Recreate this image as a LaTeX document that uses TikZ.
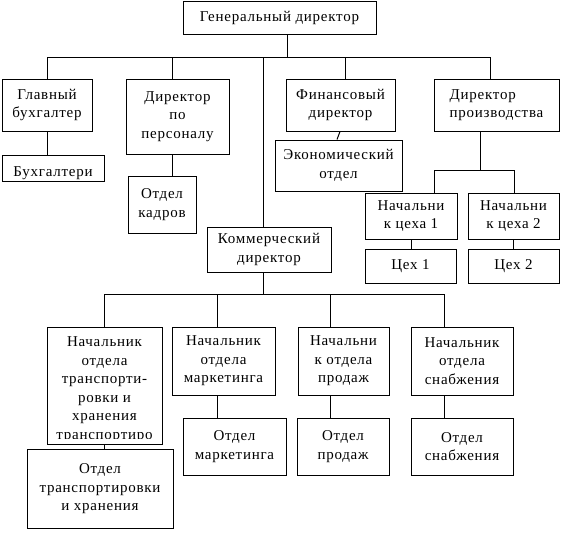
\documentclass[tikz,border=0pt]{standalone}
\usepackage{fontspec}
\setmainfont{Liberation Serif}[LetterSpace=5]
\usepackage{tikz}

\tikzset{
  box/.style={draw, line width=1pt, inner sep=1pt, align=center,
    font=\fontsize{15}{18.5}\selectfont},
  lbl/.style={inner sep=0pt, align=center, font=\fontsize{15}{18.5}\selectfont},
  link/.style={line width=1pt}
}

\begin{document}
\begin{tikzpicture}[x=1pt,y=-1pt]
  \useasboundingbox (0,0) rectangle (564,536);

  % top level
  \node[box, minimum width=193, minimum height=33] (gd) at (279.5,17.5) {Генеральный директор};
  \node[box, minimum width=90, minimum height=52] (gb) at (47,105) {Главный\\бухгалтер};
  \node[box, minimum width=103, minimum height=75] (dp) at (177.5,116.5) {Директор\\по\\персоналу};
  \node[box, minimum width=109, minimum height=52] (fd) at (340.5,105) {Финансовый\\директор};
  \node[box, minimum width=125, minimum height=52, align=left] (dpr) at (496.5,105) {Директор\\производства};

  % second level
  \node[box, minimum width=102, minimum height=26] (buh) at (53,168) {};
  \begin{scope}
    \clip (1,154) rectangle (105,179);
    \node[lbl, anchor=base] (buhT) at (53,176) {Бухгалтери};
  \end{scope}
  \node[box, minimum width=68, minimum height=57] (ok) at (162,204.5) {Отдел\\кадров};
  \node[box, minimum width=127, minimum height=51] (eo) at (338.5,165.5) {Экономический\\отдел};
  \node[box, minimum width=92, minimum height=46] (nc1) at (411,216) {Начальни\\к цеха 1};
  \node[box, minimum width=91, minimum height=46] (nc2) at (513.5,216) {Начальни\\к цеха 2};
  \node[box, minimum width=91, minimum height=34] (c1) at (410.5,266) {Цех 1};
  \node[box, minimum width=91, minimum height=34] (c2) at (513.5,266) {Цех 2};
  \node[box, minimum width=124, minimum height=45] (kd) at (269,249.5) {Коммерческий\\директор};

  % commercial branch
  \node[box, minimum width=115, minimum height=117] (nt) at (104.5,385.5) {};
  \begin{scope}
    \clip (46,326) rectangle (163,438.5);
    \node[lbl, anchor=north] (ntT) at (104.5,336.5) {Начальник\\отдела\\транспорти-\\ровки и\\хранения\\транспортиро};
  \end{scope}
  \node[box, minimum width=146, minimum height=79] (ot) at (100,489) {Отдел\\транспортировки\\и хранения};
  \node[box, minimum width=103, minimum height=68] (nm) at (223.5,361) {Начальник\\отдела\\маркетинга};
  \node[box, minimum width=103, minimum height=57] (om) at (234.5,446.5) {Отдел\\маркетинга};
  \node[box, minimum width=91, minimum height=68] (np) at (343.5,361) {Начальни\\к отдела\\продаж};
  \node[box, minimum width=92, minimum height=57] (op) at (343,446.5) {Отдел\\продаж};
  \node[box, minimum width=102, minimum height=68] (ns) at (462,361) {Начальник\\отдела\\снабжения};
  \node[box, minimum width=102, minimum height=57] (os) at (462,446.5) {Отдел\\снабжения};

  % buses
  \coordinate (busA) at (287,57);
  \coordinate (busB) at (480,170);
  \coordinate (busC) at (263,294);

  \draw[link] (gd.south -| busA) -- (busA);
  \draw[link] (47,57) -- (490,57);
  \draw[link] (47,57) -- (47,0 |- gb.north);
  \draw[link] (172,57) -- (172,0 |- dp.north);
  \draw[link] (263,57) -- (263,0 |- kd.north);
  \draw[link] (345,57) -- (345,0 |- fd.north);
  \draw[link] (490,57) -- (490,0 |- dpr.north);

  \draw[link] (gb.south) -- (buh.north -| gb.south);
  \draw[link] (dp.south -| 172,0) -- (ok.north -| 172,0);
  \draw[link] (fd.south -| 340,0) -- (eo.north -| 337,0);

  \draw[link] (dpr.south -| busB) -- (busB);
  \draw[link] (434,170) -- (514,170);
  \draw[link] (434,170) -- (434,0 |- nc1.north);
  \draw[link] (514,170) -- (514,0 |- nc2.north);
  \draw[link] (nc1.south) -- (c1.north -| nc1.south);
  \draw[link] (nc2.south) -- (c2.north -| nc2.south);

  \draw[link] (kd.south -| busC) -- (busC);
  \draw[link] (104,294) -- (444,294);
  \draw[link] (104,294) -- (104,0 |- nt.north);
  \draw[link] (217,294) -- (217,0 |- nm.north);
  \draw[link] (330,294) -- (330,0 |- np.north);
  \draw[link] (444,294) -- (444,0 |- ns.north);

  \draw[link] (nt.south -| 104,0) -- (ot.north -| 104,0);
  \draw[link] (nm.south -| 217,0) -- (om.north -| 217,0);
  \draw[link] (np.south -| 330,0) -- (op.north -| 330,0);
  \draw[link] (ns.south -| 444,0) -- (os.north -| 444,0);
\end{tikzpicture}
\end{document}
